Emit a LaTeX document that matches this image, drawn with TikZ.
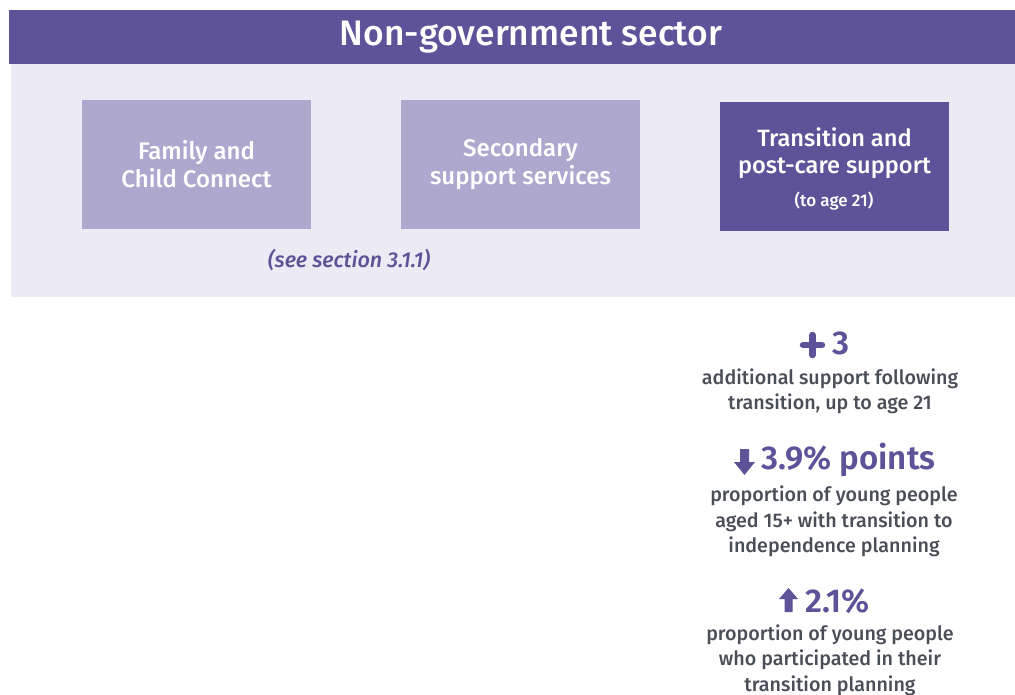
\documentclass[tikz,border=0pt]{standalone}
\usepackage{fontspec}
\IfFontExistsTF{Fira Sans Medium}{\setmainfont{Fira Sans Medium}[BoldFont={Fira Sans SemiBold},ItalicFont={Fira Sans Medium Italic}]}{\setmainfont{Fira Sans}}
\definecolor{dpurple}{HTML}{5E5398}
\definecolor{lpurple}{HTML}{AFA8CE}
\definecolor{panel}{HTML}{ECEAF4}
\definecolor{bodygray}{HTML}{4A4F57}
\tikzset{
  svcbox/.style={fill=lpurple, minimum width=229pt, minimum height=129pt, text=white, align=center, inner sep=0pt, font=\fontsize{24}{28}\selectfont},
  darkbox/.style={svcbox, fill=dpurple},
  statnum/.style={text=dpurple, font=\bfseries\fontsize{33}{36}\selectfont, inner sep=0pt},
  stattext/.style={text=bodygray, align=center, inner sep=0pt, font=\fontsize{19.7}{25.3}\selectfont},
  icon/.style={fill=dpurple, draw=none}
}
\begin{document}
\begin{tikzpicture}[x=1pt,y=-1pt]
\useasboundingbox (0,0) rectangle (1015,695);
\fill[white] (0,0) rectangle (1015,695);
% panel and header
\fill[panel] (11,64) rectangle (1015,297);
\fill[dpurple] (9,10) rectangle (1015,64);
\node[text=white, font=\fontsize{35.4}{40}\selectfont, inner sep=0pt] (title) at (531,37) {Non-government sector};
% boxes
\node[svcbox] (fcc) at (196.5,164.5) {Family and\\Child Connect};
\node[svcbox, minimum width=239pt] (sss) at (520.5,164.5) {Secondary\\support services};
\node[darkbox, minimum width=229pt] (tpc) at (834.5,166.5) {};
\node[text=white, align=center, inner sep=0pt, font=\fontsize{23.6}{27}\selectfont] (tpct) at (834.5,153.5) {Transition and\\post-care support};
\node[text=white, inner sep=0pt, font=\fontsize{17}{20}\selectfont] (tpca) at (834,201) {(to age 21)};
\node[text=dpurple, inner sep=0pt, font=\itshape\fontsize{21.5}{24}\selectfont] (see) at (349,260) {(see section 3.1.1)};
% stat 1
\draw[dpurple, line width=6.5pt, line cap=round] (803,345) -- (822,345) (812.5,335) -- (812.5,355);
\node[statnum, anchor=west] (s1) at (832,343) {3};
\node[stattext] (t1) at (830,391.5) {additional support following\\transition, up to age 21};
% stat 2
\fill[icon] (740,449) -- (749,449) -- (749,462) -- (755,462) -- (744.5,475) -- (734,462) -- (740,462) -- cycle;
\node[statnum, anchor=west] (s2) at (761,460) {3.9\% points};
\node[stattext] (t2) at (834,521.5) {proportion of young people\\aged 15+ with transition to\\independence planning};
% stat 3
\fill[icon] (784.5,612) -- (792.5,612) -- (792.5,599) -- (798,599) -- (788.5,588) -- (779,599) -- (784.5,599) -- cycle;
\node[statnum, anchor=west] (s3) at (805,601) {2.1\%};
\node[stattext] (t3) at (830,660) {proportion of young people\\who participated in their\\transition planning};
\end{tikzpicture}
\end{document}
